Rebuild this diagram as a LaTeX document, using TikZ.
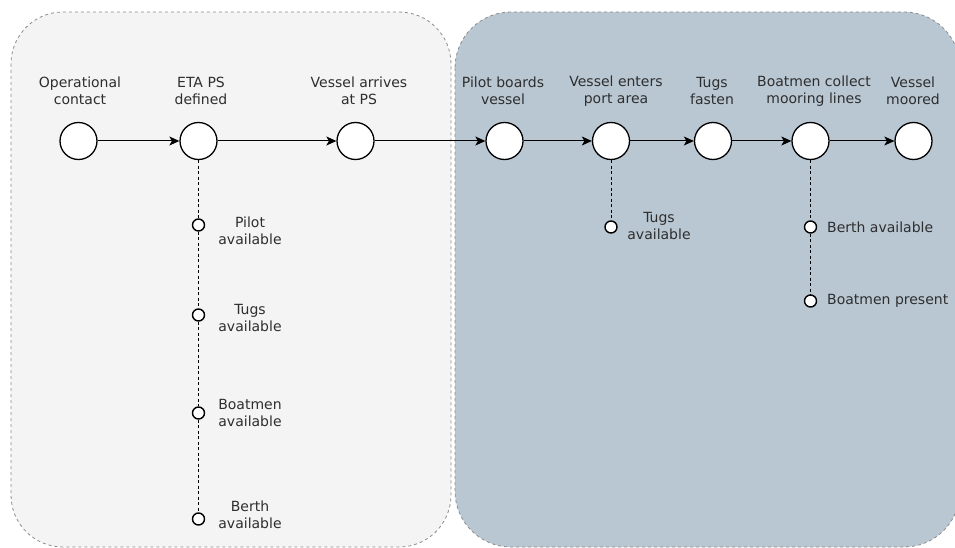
\documentclass[tikz,border=0pt]{standalone}
\usepackage{fontspec}
\setmainfont{DejaVu Sans}
\usetikzlibrary{arrows.meta}
\definecolor{txt}{HTML}{2E2E2E}
\definecolor{leftbg}{HTML}{F4F4F4}
\definecolor{rightbg}{HTML}{B9C7D3}
\definecolor{zoneline}{HTML}{8C8C8C}
\begin{document}
\begin{tikzpicture}[x=1pt,y=-1pt,
  event/.style={circle,draw=black,fill=white,line width=1.3pt,minimum size=37pt,inner sep=0pt},
  cond/.style={circle,draw=black,fill=white,line width=1.4pt,minimum size=12pt,inner sep=0pt},
  lbl/.style={text=txt,font=\fontsize{14}{16.5}\selectfont,align=center,inner sep=0pt},
  flow/.style={-{Stealth[length=10pt,width=9pt,inset=2.5pt]},line width=1pt},
  dep/.style={dash pattern=on 3pt off 2.5pt,line width=1pt},
  zone/.style={dash pattern=on 3pt off 3pt,draw=zoneline,line width=0.8pt}]
\useasboundingbox (0,0) rectangle (955,548);
\clip (0,0) rectangle (955,548);

% two phases
\draw[zone,fill=leftbg,rounded corners=52pt] (11,12) rectangle (451,547);
\draw[zone,fill=rightbg,rounded corners=56pt] (455,12) rectangle (960,547);

% main event chain
\node[event] (e1) at (78.5,141) {};
\node[event] (e2) at (198.5,141) {};
\node[event] (e3) at (355.5,141) {};
\node[event] (e4) at (504.5,141) {};
\node[event] (e5) at (611,141) {};
\node[event] (e6) at (713,141) {};
\node[event] (e7) at (810.5,141) {};
\node[event] (e8) at (913.5,141) {};

\node[lbl] (t1) at (80,91) {Operational\\contact};
\node[lbl] (t2) at (201,91) {ETA PS\\defined};
\node[lbl] (t3) at (359,91) {Vessel arrives\\at PS};
\node[lbl] (t4) at (503,91) {Pilot boards\\vessel};
\node[lbl] (t5) at (616,91) {Vessel enters\\port area};
\node[lbl] (t6) at (712,91) {Tugs\\fasten};
\node[lbl] (t7) at (814,91) {Boatmen collect\\mooring lines};
\node[lbl] (t8) at (913,91) {Vessel\\moored};

\draw[flow] (e1) -- (e2);
\draw[flow] (e2) -- (e3);
\draw[flow] (e3) -- (e4);
\draw[flow] (e4) -- (e5);
\draw[flow] (e5) -- (e6);
\draw[flow] (e6) -- (e7);
\draw[flow] (e7) -- (e8);

% conditions for ETA PS
\node[cond] (c1) at (198.5,225) {};
\node[cond] (c2) at (198.5,315) {};
\node[cond] (c3) at (198.5,413) {};
\node[cond] (c4) at (198.5,519) {};
\draw[dep] (e2) -- (c1);
\draw[dep] (c1) -- (c2);
\draw[dep] (c2) -- (c3);
\draw[dep] (c3) -- (c4);
\node[lbl] (l1) at (250,231) {Pilot\\available};
\node[lbl] (l2) at (250,318) {Tugs\\available};
\node[lbl] (l3) at (250,413) {Boatmen\\available};
\node[lbl] (l4) at (250,515) {Berth\\available};

% condition for entering the port area
\node[cond] (c5) at (611,227) {};
\draw[dep] (e5) -- (c5);
\node[lbl] (l5) at (659,226) {Tugs\\available};

% conditions for collecting mooring lines
\node[cond] (c6) at (810.5,227) {};
\node[cond] (c7) at (810.5,301) {};
\draw[dep] (e7) -- (c6);
\draw[dep] (c6) -- (c7);
\node[lbl,anchor=west] (l6) at (827,227) {Berth available};
\node[lbl,anchor=west] (l7) at (827,301) {Boatmen present};
\end{tikzpicture}
\end{document}
